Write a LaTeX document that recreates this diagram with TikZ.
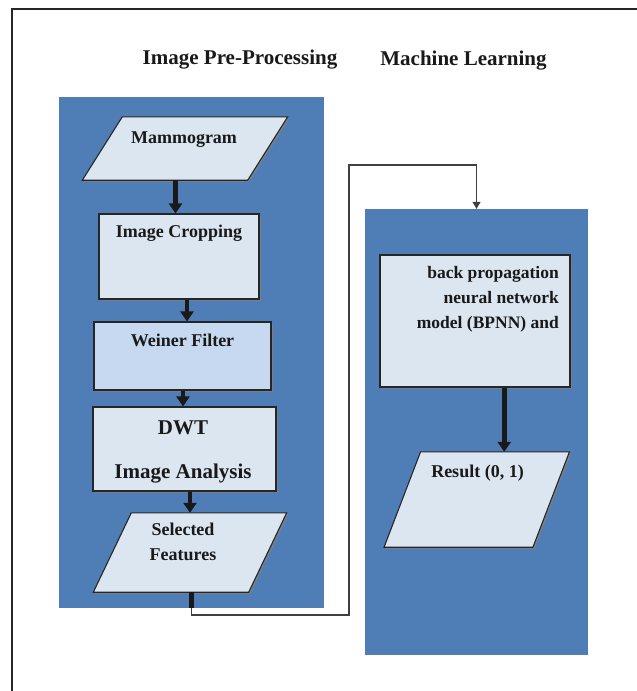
\documentclass[tikz,border=0pt]{standalone}
\usepackage{fontspec}
\setmainfont{Liberation Serif}
\usepackage{xcolor}
\usetikzlibrary{arrows.meta,shadows}

\definecolor{panelblue}{HTML}{4F7EB6}
\definecolor{boxfill}{HTML}{DCE6F1}
\definecolor{filterfill}{HTML}{C6D9F0}

\begin{document}
\begin{tikzpicture}[x=1pt, y=-1pt,
  panel/.style={fill=panelblue, draw=none, inner sep=0pt},
  box/.style={draw=black!85, line width=1.1pt, fill=boxfill, inner sep=0pt,
              drop shadow={shadow xshift=1.6pt, shadow yshift=-1.6pt, fill=black!50, opacity=0.8}},
  iohold/.style={draw=none, inner sep=0pt},
  iobox/.style={draw=black!85, line width=1.1pt, fill=boxfill,
              drop shadow={shadow xshift=1.6pt, shadow yshift=-1.6pt, fill=black!50, opacity=0.8}},
  lbl/.style={font=\bfseries\fontsize{18}{25}\selectfont, text=black!90, inner sep=0pt, align=center},
  title/.style={font=\bfseries\fontsize{21}{25}\selectfont, text=black!90, inner sep=0pt},
  flow/.style={draw=black!90, line width=4.8pt, -{Triangle[length=10pt,width=13pt]}},
  stub/.style={draw=black!90, line width=4.8pt},
  link/.style={draw=black!75, line width=1.2pt, -{Triangle[length=7pt,width=8pt]}}
]
\useasboundingbox (0,0) rectangle (637,691);
% Frame
\draw[black!85, line width=2pt] (12,691) -- (12,9) -- (637,9);
% Titles
\node[title, anchor=base] (pretitle) at (240,64.5) {Image Pre-Processing};
\node[title, anchor=base] (mltitle) at (463.5,65) {Machine Learning};
% Panels
\node[panel, minimum width=265pt, minimum height=511pt] (prepanel) at (191.5,352.5) {};
\node[panel, minimum width=223pt, minimum height=446pt] (mlpanel) at (476.5,432) {};
% Image pre-processing
\node[iohold, minimum width=165pt, minimum height=63pt] (mammo) at (185,148.5) {};
\filldraw[iobox] ([xshift=20pt]mammo.north west) -- ([xshift=20pt]mammo.north east)
  -- ([xshift=-20pt]mammo.south east) -- ([xshift=-20pt]mammo.south west) -- cycle;
\node[box, minimum width=160pt, minimum height=85pt] (crop) at (179,256.5) {};
\node[box, fill=filterfill, minimum width=177pt, minimum height=68pt] (weiner) at (182.5,356) {};
\node[box, minimum width=183pt, minimum height=84pt] (dwt) at (184.5,449) {};
\node[iohold, minimum width=155pt, minimum height=79pt] (sel) at (190,552.5) {};
\filldraw[iobox] ([xshift=19pt]sel.north west) -- ([xshift=19pt]sel.north east)
  -- ([xshift=-19pt]sel.south east) -- ([xshift=-19pt]sel.south west) -- cycle;
\node[lbl, anchor=base] (mammotxt) at (184,143) {Mammogram};
\node[lbl, anchor=base] (croptxt) at (179,237) {Image Cropping};
\node[lbl, anchor=base] (weinertxt) at (182.5,346.5) {Weiner Filter};
\node[lbl, anchor=base, font=\bfseries\fontsize{21}{44}\selectfont] (dwttxt) at (183,478) {DWT\\Image Analysis};
\node[lbl, anchor=base] (seltxt) at (183,560) {Selected\\Features};
% Machine learning
\node[box, minimum width=190pt, minimum height=132pt] (bpnn) at (475,321) {};
\node[iohold, minimum width=148.5pt, minimum height=95pt] (result) at (476.75,499.5) {};
\filldraw[iobox] ([xshift=18.25pt]result.north west) -- ([xshift=18.25pt]result.north east)
  -- ([xshift=-18.25pt]result.south east) -- ([xshift=-18.25pt]result.south west) -- cycle;
\node[lbl, anchor=base east, align=right, font=\bfseries\fontsize{17.5}{25}\selectfont] (bpnntxt) at (559,328)
  {back propagation\\neural network\\model (BPNN) and};
\node[lbl, anchor=base] (resulttxt) at (477.5,477.5) {Result (0, 1)};
% Connections
\coordinate (selout) at ([xshift=1.5pt]sel.south);
\coordinate (bend) at (349,615);
\coordinate (top) at (349,165);
\draw[link] (selout) |- (bend) -- (top) -| (mlpanel.north);
\draw[stub] (selout) -- ++(0,16);
\draw[flow] ([xshift=-3.5pt]crop.north |- mammo.south) -- ([xshift=-3.5pt]crop.north);
\draw[flow] ([xshift=4.5pt]weiner.north |- crop.south) -- ([xshift=4.5pt]weiner.north);
\draw[flow] ([xshift=-1.5pt]dwt.north |- weiner.south) -- ([xshift=-1.5pt]dwt.north);
\draw[flow] ([xshift=0pt]sel.north |- dwt.south) -- ([xshift=0pt]sel.north);
\draw[flow] ([xshift=27.5pt]result.north |- bpnn.south) -- ([xshift=27.5pt]result.north);
\end{tikzpicture}
\end{document}
